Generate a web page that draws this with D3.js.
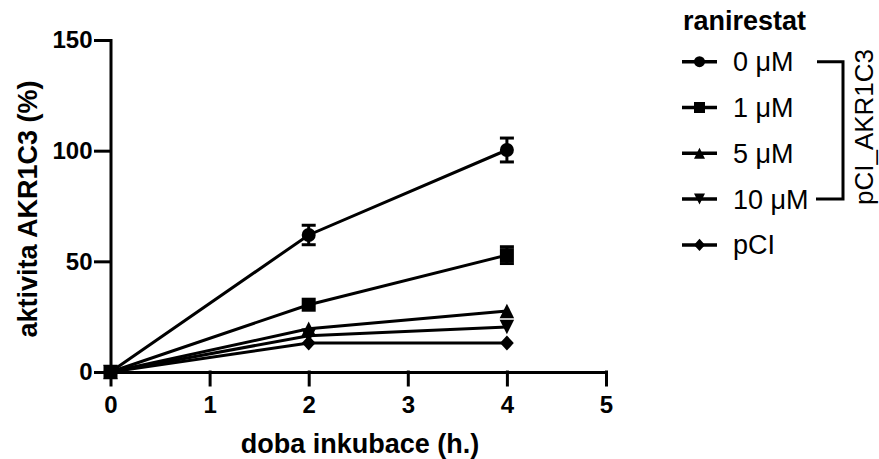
<html>
<head>
<style>
  body { margin: 0; background: #fff; }
  svg { font-family: Arial, "Liberation Sans", sans-serif; }
  .axis path, .axis line { stroke: #000; stroke-width: 3px; stroke-linecap: square; }
  .axis text { font-size: 24px; font-weight: bold; fill: #000; }
</style>
<script src="https://cdnjs.cloudflare.com/ajax/libs/d3/7.8.5/d3.min.js"></script>
</head>
<body>
<script>
var width = 879, height = 459;

// hours of incubation
var times = [0, 2, 4];

// AKR1C3 activity (%), with SD (0 where no bar shows)
var ran0 = [0, 61.9, 100.3];
var ran0Err = [0, 4.4, 5.4];
var ran1 = [0, 30.4, 52.8];
var ran1Err = [0, 0, 3.8];
var ran5 = [0, 19.5, 27.6];
var ran5Err = [0, 0, 0];
var ran10 = [0, 16.4, 20.3];
var ran10Err = [0, 0, 0];
var pci = [0, 13.1, 13.1];
var pciErr = [0, 0, 0];

var seriesNames = ["0 μM", "1 μM", "5 μM", "10 μM", "pCI"];
var xTicks = [0, 1, 2, 3, 4, 5];
var yTicks = [0, 50, 100, 150];

// own marker shapes, size = edge squared
var triUp = { draw: function(c, s) { var r = Math.sqrt(s) / 2;
  c.moveTo(0, -r); c.lineTo(r, r); c.lineTo(-r, r); c.closePath(); } };
var triDown = { draw: function(c, s) { var r = Math.sqrt(s) / 2;
  c.moveTo(0, r); c.lineTo(r, -r); c.lineTo(-r, -r); c.closePath(); } };
var diamond = { draw: function(c, s) { var r = Math.sqrt(s) / 2;
  c.moveTo(0, -r * 1.1); c.lineTo(r, 0); c.lineTo(0, r * 1.1); c.lineTo(-r, 0); c.closePath(); } };
var circle = { draw: function(c, s) { var r = Math.sqrt(s) / 2;
  c.moveTo(r, 0); c.arc(0, 0, r, 0, 2 * Math.PI); } };
var square = { draw: function(c, s) { var r = Math.sqrt(s) / 2;
  c.rect(-r, -r, 2 * r, 2 * r); } };

var shapes = [circle, square, triUp, triDown, diamond];
var shapeSizes = [196, 196, 210, 210, 190];
var values = [ran0, ran1, ran5, ran10, pci];
var errors = [ran0Err, ran1Err, ran5Err, ran10Err, pciErr];

var series = seriesNames.map(function(name, i) {
  return {
    name: name,
    shape: shapes[i],
    size: shapeSizes[i],
    points: times.map(function(t, j) { return { t: t, v: values[i][j], e: errors[i][j] }; })
  };
});

var svg = d3.select("body").append("svg")
  .attr("width", width)
  .attr("height", height);

var x = d3.scaleLinear().domain([0, 5]).range([110.5, 606]);
var y = d3.scaleLinear().domain([0, 150]).range([372, 40]);

// axes
svg.append("g")
  .attr("class", "axis")
  .attr("transform", "translate(0," + y(0) + ")")
  .call(d3.axisBottom(x).tickValues(xTicks).tickFormat(d3.format("d"))
    .tickSize(13).tickSizeOuter(0).tickPadding(11));

svg.append("g")
  .attr("class", "axis")
  .attr("transform", "translate(" + x(0) + ",0)")
  .call(d3.axisLeft(y).tickValues(yTicks).tickFormat(d3.format("d"))
    .tickSize(15).tickSizeOuter(0).tickPadding(3));

// axis titles
svg.append("text")
  .attr("x", 360)
  .attr("y", 453)
  .attr("text-anchor", "middle")
  .style("font-size", "27px")
  .style("font-weight", "bold")
  .text("doba inkubace (h.)");

svg.append("text")
  .attr("transform", "translate(37,209) rotate(-90)")
  .attr("text-anchor", "middle")
  .style("font-size", "27px")
  .style("font-weight", "bold")
  .text("aktivita AKR1C3 (%)");

// data
var line = d3.line().x(function(d) { return x(d.t); }).y(function(d) { return y(d.v); });
var plot = svg.append("g");
var capHalf = 7;

series.forEach(function(s) {
  var g = plot.append("g");
  g.append("path")
    .datum(s.points)
    .attr("d", line)
    .attr("fill", "none")
    .attr("stroke", "#000")
    .attr("stroke-width", 3);

  var bars = g.selectAll(".err")
    .data(s.points.filter(function(d) { return d.e > 0; }))
    .enter().append("g");
  bars.append("line")
    .attr("x1", function(d) { return x(d.t); })
    .attr("x2", function(d) { return x(d.t); })
    .attr("y1", function(d) { return y(d.v - d.e); })
    .attr("y2", function(d) { return y(d.v + d.e); });
  bars.append("line")
    .attr("x1", function(d) { return x(d.t) - capHalf; })
    .attr("x2", function(d) { return x(d.t) + capHalf; })
    .attr("y1", function(d) { return y(d.v + d.e); })
    .attr("y2", function(d) { return y(d.v + d.e); });
  bars.append("line")
    .attr("x1", function(d) { return x(d.t) - capHalf; })
    .attr("x2", function(d) { return x(d.t) + capHalf; })
    .attr("y1", function(d) { return y(d.v - d.e); })
    .attr("y2", function(d) { return y(d.v - d.e); });
  bars.selectAll("line").attr("stroke", "#000").attr("stroke-width", 3);

  g.selectAll(".pt")
    .data(s.points)
    .enter().append("path")
    .attr("transform", function(d) { return "translate(" + x(d.t) + "," + y(d.v) + ")"; })
    .attr("d", d3.symbol().type(s.shape).size(s.size))
    .attr("fill", "#000");
});

// legend
var legend = svg.append("g");
legend.append("text")
  .attr("x", 683)
  .attr("y", 30)
  .style("font-size", "27px")
  .style("font-weight", "bold")
  .text("ranirestat");

var rows = legend.selectAll(".row")
  .data(series)
  .enter().append("g")
  .attr("transform", function(d, i) { return "translate(0," + (61.7 + i * 45.8) + ")"; });

rows.append("line")
  .attr("x1", 682).attr("x2", 717)
  .attr("stroke", "#000").attr("stroke-width", 3.5);
rows.append("path")
  .attr("transform", "translate(699.5,0)")
  .attr("d", function(d) { return d3.symbol().type(d.shape).size(121)(); })
  .attr("fill", "#000");
rows.append("text")
  .attr("x", 733)
  .attr("y", 9.5)
  .style("font-size", "27px")
  .text(function(d) { return d.name; });

// bracket grouping the pCI_AKR1C3 rows
legend.append("path")
  .attr("d", "M817,61.7H843V199.1H816")
  .attr("fill", "none")
  .attr("stroke", "#000")
  .attr("stroke-width", 3);

legend.append("text")
  .attr("transform", "translate(873,127) rotate(-90)")
  .attr("text-anchor", "middle")
  .style("font-size", "26px")
  .text("pCI_AKR1C3");
</script>
</body>
</html>
